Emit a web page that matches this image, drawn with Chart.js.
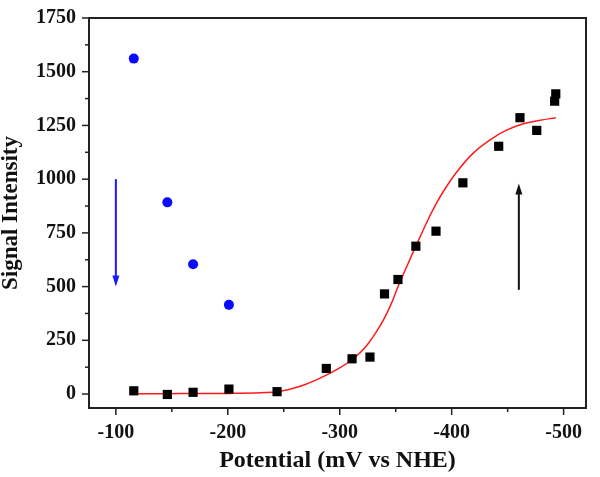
<!DOCTYPE html>
<html>
<head>
<meta charset="utf-8">
<script src="https://cdn.jsdelivr.net/npm/chart.js@4/dist/chart.umd.min.js"></script>
<style>
  html, body { margin: 0; padding: 0; background: #fff; }
  #wrap { width: 600px; height: 477px; }
</style>
</head>
<body>
<div id="wrap"><canvas id="chart" width="600" height="477"></canvas></div>
<script>
// measured points (black squares)
const squareX = [-116, -146, -169, -201, -244, -288, -311, -327, -340, -352, -368, -386, -410, -442, -461, -476, -492, -493];
const squareY = [15, -2, 8, 23, 11, 119, 164, 172, 466, 533, 688, 758, 983, 1153, 1286, 1227, 1363, 1397];

// blue circles
const circleX = [-116, -146, -169, -201];
const circleY = [1561, 892, 604, 415];

// red fitted curve
const fitX = [-115, -160, -200, -230, -246, -264, -282, -300, -312, -324, -336, -345, -352, -360, -368, -380, -386, -392, -404, -419, -434, -449, -464, -479, -493];
const fitY = [1, 2, 3, 6, 12, 35, 73, 122, 164, 225, 317, 408, 499, 595, 688, 824, 884, 938, 1030, 1120, 1182, 1228, 1258, 1274, 1286];

// ticks
const xTicks = [-100, -150, -200, -250, -300, -350, -400, -450, -500];
const yTicks = [0, 125, 250, 375, 500, 625, 750, 875, 1000, 1125, 1250, 1375, 1500, 1625, 1750];

// arrows: x, from y, to y
const arrowX = [-100, -460];
const arrowFrom = [1000, 485];
const arrowTo = [500, 980];
const arrowColors = ['#1a1aff', '#111111'];

const serif = '"Liberation Serif", "Times New Roman", serif';

function pts(xs, ys) {
  return xs.map((x, i) => ({x: x, y: ys[i]}));
}

const framePlugin = {
  id: 'frame',
  afterDatasetsDraw(chart) {
    const {ctx, chartArea: a, scales} = chart;
    ctx.save();
    // arrows
    arrowX.forEach((x, i) => {
      const px = scales.x.getPixelForValue(x);
      const y0 = scales.y.getPixelForValue(arrowFrom[i]);
      const y1 = scales.y.getPixelForValue(arrowTo[i]);
      const dir = y1 > y0 ? 1 : -1;
      ctx.strokeStyle = arrowColors[i];
      ctx.fillStyle = arrowColors[i];
      ctx.lineWidth = 2;
      ctx.beginPath();
      ctx.moveTo(px, y0);
      ctx.lineTo(px, y1 - dir * 8);
      ctx.stroke();
      ctx.beginPath();
      ctx.moveTo(px, y1);
      ctx.lineTo(px - 3.5, y1 - dir * 11);
      ctx.lineTo(px + 3.5, y1 - dir * 11);
      ctx.closePath();
      ctx.fill();
    });
    // frame
    ctx.strokeStyle = '#222';
    ctx.lineWidth = 2;
    ctx.strokeRect(a.left, a.top, a.right - a.left, a.bottom - a.top);
    // tick marks
    ctx.lineWidth = 1.5;
    xTicks.forEach(v => {
      const px = scales.x.getPixelForValue(v);
      const len = v % 100 === 0 ? 7 : 4;
      ctx.beginPath();
      ctx.moveTo(px, a.bottom);
      ctx.lineTo(px, a.bottom + len);
      ctx.stroke();
    });
    yTicks.forEach(v => {
      const py = scales.y.getPixelForValue(v);
      const len = v % 250 === 0 ? 7 : 4;
      ctx.beginPath();
      ctx.moveTo(a.left, py);
      ctx.lineTo(a.left - len, py);
      ctx.stroke();
    });
    ctx.restore();
  }
};

new Chart(document.getElementById('chart'), {
  type: 'scatter',
  data: {
    datasets: [
      {
        data: pts(fitX, fitY),
        showLine: true,
        borderColor: '#ff1a1a',
        borderWidth: 1.5,
        pointRadius: 0,
        tension: 0.4,
        order: 3
      },
      {
        data: pts(circleX, circleY),
        pointStyle: 'circle',
        pointRadius: 5,
        backgroundColor: '#0a0aff',
        borderColor: '#0a0aff',
        borderWidth: 0,
        order: 2
      },
      {
        data: pts(squareX, squareY),
        pointStyle: 'rect',
        pointRadius: 6.5,
        backgroundColor: '#000',
        borderColor: '#000',
        borderWidth: 0,
        order: 1
      }
    ]
  },
  options: {
    responsive: false,
    animation: false,
    layout: {padding: {top: 9, right: 14, left: 0, bottom: 0}},
    plugins: {legend: {display: false}, tooltip: {enabled: false}},
    scales: {
      x: {
        type: 'linear',
        reverse: true,
        min: -520,
        max: -76,
        afterBuildTicks: axis => { axis.ticks = xTicks.map(v => ({value: v})); },
        afterFit: axis => { axis.height = 69; },
        grid: {drawOnChartArea: false, tickColor: 'transparent', tickLength: 7},
        border: {display: false},
        ticks: {
          color: '#111',
          padding: 6,
          maxRotation: 0,
          autoSkip: false,
          font: {family: serif, size: 20, weight: 'bold'},
          callback: v => (v % 100 === 0 ? String(v) : '')
        },
        title: {
          display: true,
          text: 'Potential (mV vs NHE)',
          color: '#111',
          font: {family: serif, size: 24, weight: 'bold', lineHeight: 1},
          padding: {top: 0, bottom: 4}
        }
      },
      y: {
        type: 'linear',
        min: -65,
        max: 1750,
        afterBuildTicks: axis => { axis.ticks = yTicks.map(v => ({value: v})); },
        afterFit: axis => { axis.width = 89; },
        grid: {drawOnChartArea: false, tickColor: 'transparent', tickLength: 7},
        border: {display: false},
        ticks: {
          color: '#111',
          padding: 6,
          autoSkip: false,
          font: {family: serif, size: 20, weight: 'bold'},
          callback: v => (v % 250 === 0 ? String(v) : '')
        },
        title: {
          display: true,
          text: 'Signal Intensity',
          color: '#111',
          font: {family: serif, size: 23, weight: 'bold', lineHeight: 1},
          padding: {top: 0, bottom: 0}
        }
      }
    }
  },
  plugins: [framePlugin]
});
</script>
</body>
</html>
